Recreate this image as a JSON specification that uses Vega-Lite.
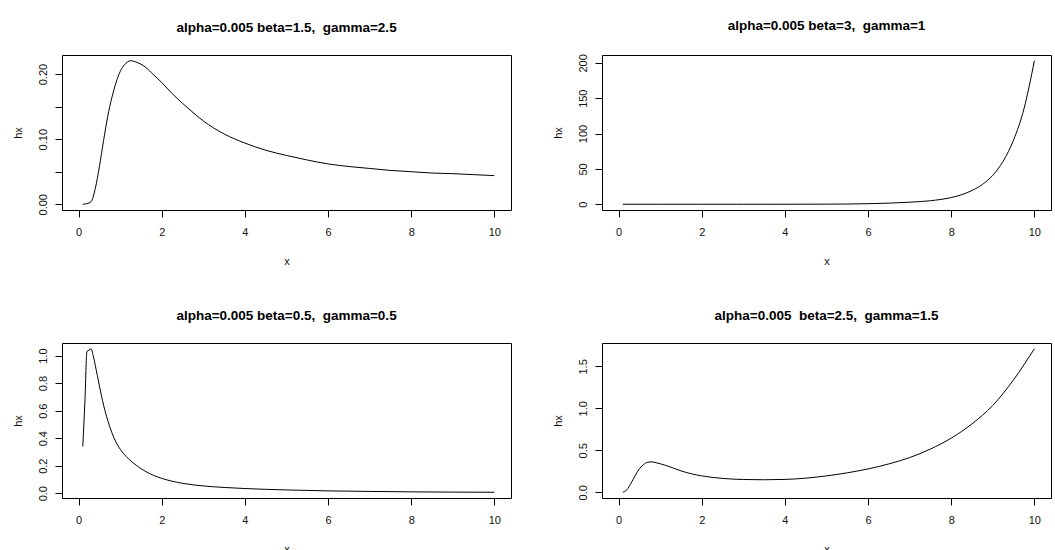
{
  "$schema": "https://vega.github.io/schema/vega-lite/v6.json",
  "background": "white",
  "padding": {"left": 11, "top": 18, "right": 5, "bottom": 5},
  "datasets": {
    "tl": [
      {"x": 0.1, "hx": 0.0}, {"x": 0.2, "hx": 0.001}, {"x": 0.3, "hx": 0.004}, {"x": 0.4, "hx": 0.024},
      {"x": 0.5, "hx": 0.058}, {"x": 0.6, "hx": 0.098}, {"x": 0.7, "hx": 0.135}, {"x": 0.8, "hx": 0.164},
      {"x": 0.9, "hx": 0.187}, {"x": 1.0, "hx": 0.204}, {"x": 1.1, "hx": 0.214}, {"x": 1.25, "hx": 0.2205},
      {"x": 1.4, "hx": 0.218}, {"x": 1.6, "hx": 0.211}, {"x": 1.8, "hx": 0.199}, {"x": 2.0, "hx": 0.187},
      {"x": 2.25, "hx": 0.17}, {"x": 2.5, "hx": 0.155}, {"x": 2.75, "hx": 0.141}, {"x": 3.0, "hx": 0.128},
      {"x": 3.5, "hx": 0.108}, {"x": 4.0, "hx": 0.094}, {"x": 4.5, "hx": 0.083}, {"x": 5.0, "hx": 0.075},
      {"x": 5.5, "hx": 0.068}, {"x": 6.0, "hx": 0.062}, {"x": 6.5, "hx": 0.058}, {"x": 7.0, "hx": 0.055},
      {"x": 7.5, "hx": 0.052}, {"x": 8.0, "hx": 0.05}, {"x": 8.5, "hx": 0.048}, {"x": 9.0, "hx": 0.047},
      {"x": 9.5, "hx": 0.0455}, {"x": 10.0, "hx": 0.044}
    ],
    "tr": [
      {"x": 0.1, "hx": 0.0}, {"x": 1.0, "hx": 0.0}, {"x": 2.0, "hx": 0.0}, {"x": 3.0, "hx": 0.0},
      {"x": 4.0, "hx": 0.02}, {"x": 5.0, "hx": 0.15}, {"x": 5.5, "hx": 0.35}, {"x": 6.0, "hx": 0.8},
      {"x": 6.5, "hx": 1.6}, {"x": 7.0, "hx": 2.9}, {"x": 7.5, "hx": 5.0}, {"x": 8.0, "hx": 9.5},
      {"x": 8.25, "hx": 13.5}, {"x": 8.5, "hx": 19.5}, {"x": 8.75, "hx": 28}, {"x": 9.0, "hx": 41},
      {"x": 9.25, "hx": 61}, {"x": 9.5, "hx": 91}, {"x": 9.75, "hx": 135}, {"x": 10.0, "hx": 203}
    ],
    "bl": [
      {"x": 0.1, "hx": 0.34}, {"x": 0.15, "hx": 0.66}, {"x": 0.2, "hx": 1.03}, {"x": 0.25, "hx": 1.04},
      {"x": 0.3, "hx": 1.05}, {"x": 0.35, "hx": 1.0}, {"x": 0.4, "hx": 0.93}, {"x": 0.5, "hx": 0.78},
      {"x": 0.6, "hx": 0.64}, {"x": 0.7, "hx": 0.53}, {"x": 0.8, "hx": 0.44}, {"x": 0.9, "hx": 0.37},
      {"x": 1.0, "hx": 0.32}, {"x": 1.2, "hx": 0.25}, {"x": 1.4, "hx": 0.2}, {"x": 1.6, "hx": 0.16},
      {"x": 1.8, "hx": 0.13}, {"x": 2.0, "hx": 0.108}, {"x": 2.5, "hx": 0.072}, {"x": 3.0, "hx": 0.053},
      {"x": 3.5, "hx": 0.042}, {"x": 4.0, "hx": 0.034}, {"x": 5.0, "hx": 0.024}, {"x": 6.0, "hx": 0.017},
      {"x": 7.0, "hx": 0.013}, {"x": 8.0, "hx": 0.01}, {"x": 9.0, "hx": 0.008}, {"x": 10.0, "hx": 0.007}
    ],
    "br": [
      {"x": 0.1, "hx": 0.0}, {"x": 0.2, "hx": 0.03}, {"x": 0.3, "hx": 0.11}, {"x": 0.4, "hx": 0.2},
      {"x": 0.5, "hx": 0.28}, {"x": 0.6, "hx": 0.33}, {"x": 0.7, "hx": 0.358}, {"x": 0.8, "hx": 0.362},
      {"x": 0.9, "hx": 0.352}, {"x": 1.0, "hx": 0.34}, {"x": 1.25, "hx": 0.3}, {"x": 1.5, "hx": 0.255},
      {"x": 1.75, "hx": 0.22}, {"x": 2.0, "hx": 0.195}, {"x": 2.5, "hx": 0.165}, {"x": 3.0, "hx": 0.152},
      {"x": 3.5, "hx": 0.149}, {"x": 4.0, "hx": 0.153}, {"x": 4.5, "hx": 0.168}, {"x": 5.0, "hx": 0.195},
      {"x": 5.5, "hx": 0.232}, {"x": 6.0, "hx": 0.278}, {"x": 6.5, "hx": 0.338}, {"x": 7.0, "hx": 0.413},
      {"x": 7.5, "hx": 0.515}, {"x": 8.0, "hx": 0.645}, {"x": 8.5, "hx": 0.815}, {"x": 9.0, "hx": 1.035},
      {"x": 9.5, "hx": 1.34}, {"x": 10.0, "hx": 1.71}
    ]
  },
  "columns": 2,
  "bounds": "flush",
  "spacing": {"row": 133, "column": 91},
  "concat": [
    {
      "title": "alpha=0.005 beta=1.5, \u00a0gamma=2.5",
      "width": 449, "height": 155,
      "data": {"name": "tl"},
      "mark": {"type": "line", "color": "#000", "strokeWidth": 1, "interpolate": "monotone"},
      "encoding": {
        "x": {"field": "x", "type": "quantitative", "title": "x",
              "scale": {"domain": [-0.4, 10.4], "nice": false, "zero": false},
              "axis": {"values": [0, 2, 4, 6, 8, 10]}},
        "y": {"field": "hx", "type": "quantitative", "title": "hx",
              "scale": {"domain": [-0.0088, 0.2293], "nice": false, "zero": false},
              "axis": {"values": [0, 0.05, 0.1, 0.15, 0.2],
                       "labelExpr": "(round(datum.value*100) % 10 == 5) ? '' : format(datum.value, '.2f')"}}
      }
    },
    {
      "title": "alpha=0.005 beta=3, \u00a0gamma=1",
      "width": 449, "height": 155,
      "data": {"name": "tr"},
      "mark": {"type": "line", "color": "#000", "strokeWidth": 1, "interpolate": "monotone"},
      "encoding": {
        "x": {"field": "x", "type": "quantitative", "title": "x",
              "scale": {"domain": [-0.4, 10.4], "nice": false, "zero": false},
              "axis": {"values": [0, 2, 4, 6, 8, 10]}},
        "y": {"field": "hx", "type": "quantitative", "title": "hx",
              "scale": {"domain": [-8.12, 211.1], "nice": false, "zero": false},
              "axis": {"values": [0, 50, 100, 150, 200], "format": "d"}}
      }
    },
    {
      "title": "alpha=0.005 beta=0.5, \u00a0gamma=0.5",
      "width": 449, "height": 155,
      "data": {"name": "bl"},
      "mark": {"type": "line", "color": "#000", "strokeWidth": 1, "interpolate": "monotone"},
      "encoding": {
        "x": {"field": "x", "type": "quantitative", "title": "x",
              "scale": {"domain": [-0.4, 10.4], "nice": false, "zero": false},
              "axis": {"values": [0, 2, 4, 6, 8, 10]}},
        "y": {"field": "hx", "type": "quantitative", "title": "hx",
              "scale": {"domain": [-0.0347, 1.0917], "nice": false, "zero": false},
              "axis": {"values": [0, 0.2, 0.4, 0.6, 0.8, 1.0], "format": ".1f"}}
      }
    },
    {
      "title": "alpha=0.005 \u00a0beta=2.5, \u00a0gamma=1.5",
      "width": 449, "height": 155,
      "data": {"name": "br"},
      "mark": {"type": "line", "color": "#000", "strokeWidth": 1, "interpolate": "monotone"},
      "encoding": {
        "x": {"field": "x", "type": "quantitative", "title": "x",
              "scale": {"domain": [-0.4, 10.4], "nice": false, "zero": false},
              "axis": {"values": [0, 2, 4, 6, 8, 10]}},
        "y": {"field": "hx", "type": "quantitative", "title": "hx",
              "scale": {"domain": [-0.0684, 1.7784], "nice": false, "zero": false},
              "axis": {"values": [0, 0.5, 1.0, 1.5], "format": ".1f"}}
      }
    }
  ],
  "config": {
    "font": "Liberation Sans",
    "view": {"stroke": "#000", "strokeWidth": 1},
    "axis": {
      "domain": false, "grid": false, "tickColor": "#000", "tickSize": 7,
      "labelFont": "Liberation Sans", "labelFontSize": 11, "labelColor": "#111",
      "titleFont": "Liberation Sans", "titleFontWeight": "normal", "titleFontSize": 11, "titleColor": "#111"
    },
    "axisY": {"labelAngle": -90, "labelAlign": "center", "labelBaseline": "bottom", "labelPadding": 7, "titlePadding": 14},
    "axisX": {"labelPadding": 9, "titlePadding": 18},
    "title": {"fontSize": 13.5, "fontWeight": "bold", "color": "#000", "offset": 21, "anchor": "middle", "frame": "group"}
  }
}
